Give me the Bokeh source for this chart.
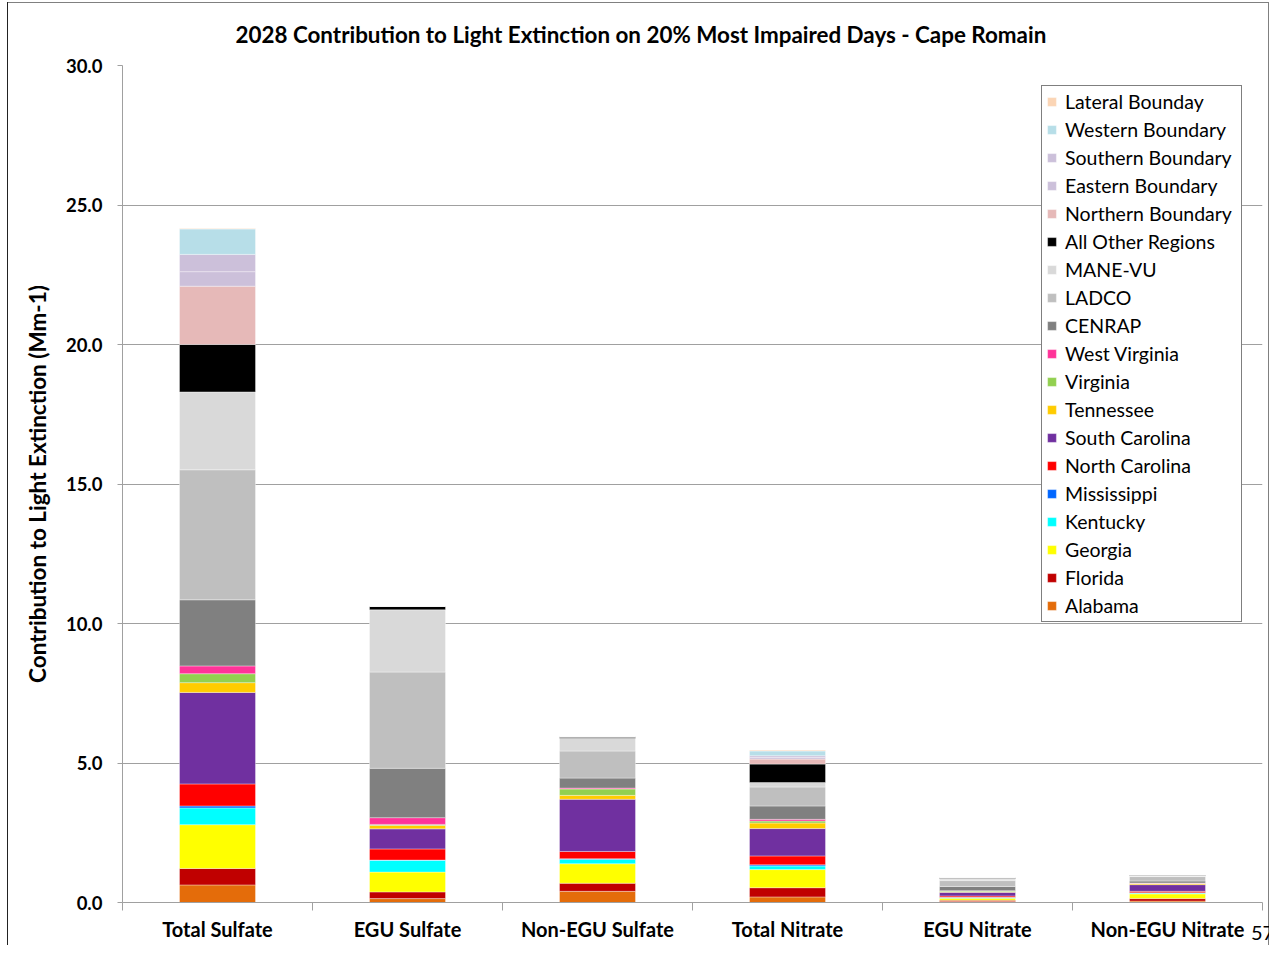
from bokeh.plotting import figure
from bokeh.models import (ColumnDataSource, Legend, LegendItem, Range1d,
                          FixedTicker, NumeralTickFormatter, Title)
from bokeh.embed import file_html
from bokeh.resources import INLINE

categories = ["Total Sulfate", "EGU Sulfate", "Non-EGU Sulfate",
              "Total Nitrate", "EGU Nitrate", "Non-EGU Nitrate"]

alabama = [0.63, 0.14, 0.40, 0.20, 0.04, 0.05]
florida = [0.59, 0.24, 0.29, 0.33, 0.04, 0.09]
georgia = [1.57, 0.71, 0.70, 0.65, 0.07, 0.17]
kentucky = [0.60, 0.42, 0.16, 0.13, 0.03, 0.03]
mississippi = [0.07, 0.01, 0.02, 0.04, 0.005, 0.01]
north_carolina = [0.79, 0.40, 0.26, 0.32, 0.05, 0.05]
south_carolina = [3.28, 0.72, 1.87, 0.98, 0.13, 0.24]
tennessee = [0.35, 0.12, 0.14, 0.20, 0.02, 0.04]
virginia = [0.32, 0.04, 0.23, 0.07, 0.03, 0.01]
west_virginia = [0.28, 0.24, 0.03, 0.06, 0.01, 0.01]
cenrap = [2.37, 1.77, 0.36, 0.48, 0.15, 0.07]
ladco = [4.66, 3.45, 0.97, 0.68, 0.21, 0.16]
mane_vu = [2.79, 2.23, 0.46, 0.16, 0.06, 0.02]
all_other = [1.70, 0.13, 0.05, 0.66, 0.04, 0.04]
northern_boundary = [2.09, 0.0, 0.0, 0.18, 0.0, 0.0]
eastern_boundary = [0.52, 0.0, 0.0, 0.06, 0.0, 0.0]
southern_boundary = [0.62, 0.0, 0.0, 0.06, 0.0, 0.0]
western_boundary = [0.91, 0.0, 0.0, 0.17, 0.0, 0.0]
lateral_boundary = [0.02, 0.0, 0.0, 0.03, 0.0, 0.0]

series_names = ["Alabama", "Florida", "Georgia", "Kentucky", "Mississippi",
                "North Carolina", "South Carolina", "Tennessee", "Virginia",
                "West Virginia", "CENRAP", "LADCO", "MANE-VU", "All Other Regions",
                "Northern Boundary", "Eastern Boundary", "Southern Boundary",
                "Western Boundary", "Lateral Bounday"]
series_values = [alabama, florida, georgia, kentucky, mississippi, north_carolina,
                 south_carolina, tennessee, virginia, west_virginia, cenrap, ladco,
                 mane_vu, all_other, northern_boundary, eastern_boundary,
                 southern_boundary, western_boundary, lateral_boundary]
series_colors = ["#E46C0A", "#C00000", "#FFFF00", "#00FFFF", "#0066FF",
                 "#FF0000", "#7030A0", "#FFCC00", "#92D050", "#FF3399",
                 "#808080", "#BFBFBF", "#D9D9D9", "#000000", "#E6B9B8",
                 "#CCC0DA", "#CCC0DA", "#B7DEE8", "#FBD5B5"]

page_number = "57"

# category slots: centre of slot i is i + 0.5, boundaries at integers
centres = [i + 0.5 for i in range(len(categories))]
bounds = [float(i) for i in range(len(categories) + 1)]

data = {"x": centres, "cat": categories}
for n, v in zip(series_names, series_values):
    data[n] = v
source = ColumnDataSource(data)

FONT = "Lato"
TEXT = "#000000"

p = figure(x_range=Range1d(0, len(categories)), y_range=Range1d(0, 30),
           width=1269, height=945,
           output_backend="svg", toolbar_location=None,
           min_border_left=122, min_border_right=7, min_border_top=65,
           min_border_bottom=43, background_fill_color="white",
           border_fill_color="white", border_fill_alpha=0.0)
p.outline_line_color = None
p.styles = {
    "background": ("linear-gradient(#222,#222) 7px 2px / 1px 100% no-repeat, "
                   "linear-gradient(#808080,#808080) 7px 2px / 1262px 1px no-repeat, "
                   "linear-gradient(#808080,#808080) 1268px 2px / 1px 100% no-repeat, "
                   "white"),
}

renderers = p.vbar_stack(series_names, x="x", width=0.4, source=source,
                         color=series_colors, line_color="white",
                         line_alpha=0.6, line_width=0.6)

# y axis
yax = p.yaxis[0]
yax.ticker = FixedTicker(ticks=[0, 5, 10, 15, 20, 25, 30])
yax.formatter = NumeralTickFormatter(format="0.0")
yax.axis_line_color = "#a0a0a0"
yax.major_tick_line_color = "#a0a0a0"
yax.major_tick_out = 5
yax.major_tick_in = 0
yax.minor_tick_line_color = None
yax.major_label_text_font = FONT
yax.major_label_text_font_style = "bold"
yax.major_label_text_font_size = "18.5px"
yax.major_label_text_color = TEXT
yax.major_label_standoff = 15
yax.axis_label = "Contribution to Light Extinction (Mm-1)"
yax.axis_label_text_font = FONT
yax.axis_label_text_font_style = "bold"
yax.axis_label_text_font_size = "22.5px"
yax.axis_label_text_color = TEXT
yax.axis_label_standoff = 12

p.ygrid.grid_line_color = "#a0a0a0"
p.ygrid.ticker = FixedTicker(ticks=[5, 10, 15, 20, 25, 30])
p.xgrid.grid_line_color = None

# x axis: ticks at category boundaries, labels at centres
xax = p.xaxis[0]
overrides = {c: name for c, name in zip(centres, categories)}
tick_list = list(centres)
try:
    # page number drawn as an end-aligned axis label tucked beside the tick labels
    xax.axis_label_align = "end"
    xax.axis_label = page_number
    xax.axis_label_standoff = -18
    xax.axis_label_text_font = FONT
    xax.axis_label_text_font_style = "normal"
    xax.axis_label_text_font_size = "20px"
    xax.axis_label_text_color = TEXT
except Exception:
    xax.axis_label = None
    tick_list.append(len(categories) - 0.05)
    overrides[len(categories) - 0.05] = page_number
xax.ticker = FixedTicker(ticks=tick_list, minor_ticks=bounds)
xax.major_label_overrides = overrides
xax.axis_line_color = "#a0a0a0"
xax.major_tick_out = 0
xax.major_tick_in = 0
xax.minor_tick_out = 8
xax.minor_tick_in = 0
xax.minor_tick_line_color = "#a0a0a0"
xax.major_label_text_font = FONT
xax.major_label_text_font_style = "bold"
xax.major_label_text_font_size = "20px"
xax.major_label_text_color = TEXT
xax.major_label_standoff = 6

# legend (reverse order: top of stack first)
items = [LegendItem(label=n, renderers=[r]) for n, r in zip(series_names, renderers)][::-1]
legend = Legend(items=items, location="top_right")
legend.margin = 20
legend.padding = 4
legend.spacing = 5
legend.glyph_width = 11
legend.glyph_height = 11
legend.label_height = 22
legend.label_width = 172
legend.label_standoff = 8
legend.label_text_font = FONT
legend.label_text_font_size = "19.5px"
legend.label_text_color = TEXT
legend.border_line_color = "#000000"
legend.border_line_width = 1
legend.background_fill_color = "white"
legend.background_fill_alpha = 1.0
p.add_layout(legend, "center")

title = Title(text="2028 Contribution to Light Extinction on 20% Most Impaired Days - Cape Romain",
              align="left", offset=113, standoff=36,
              text_font=FONT, text_font_style="bold", text_font_size="22.4px",
              text_color=TEXT)
p.add_layout(title, "above")

open("out.html", "w").write(file_html(p, INLINE))
